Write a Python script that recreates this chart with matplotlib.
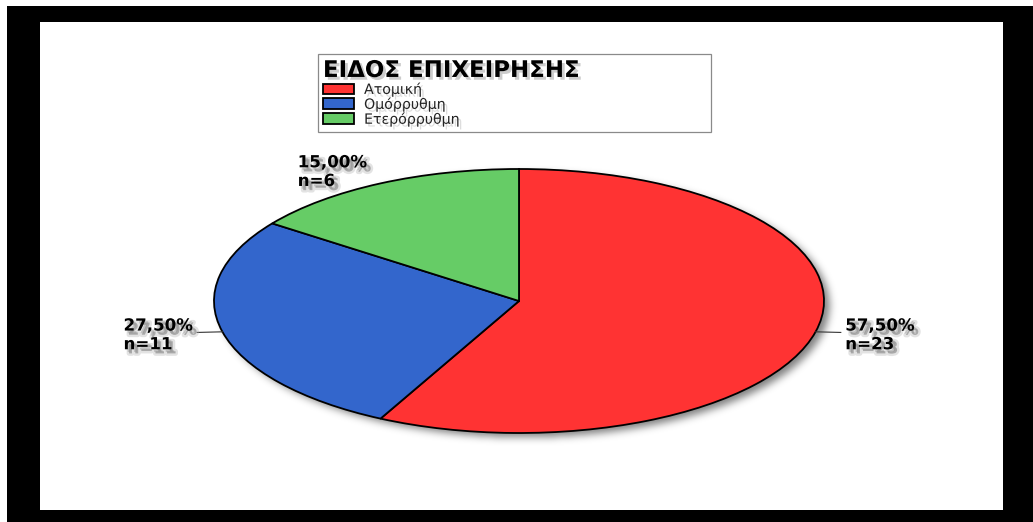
import numpy as np
import matplotlib
matplotlib.use("Agg")
import matplotlib.pyplot as plt
import matplotlib.patheffects as pe
from matplotlib.patches import Rectangle

# Data: type of business (count of firms)
categories = ["Ατομική", "Ομόρρυθμη", "Ετερόρρυθμη"]
counts = [23, 11, 6]
percent_labels = ["57,50%", "27,50%", "15,00%"]
legend_title = "ΕΙΔΟΣ ΕΠΙΧΕΙΡΗΣΗΣ"
colors = ["#ff3333", "#3366cc", "#66cc66"]

W, H = 1033, 522
fig = plt.figure(figsize=(W / 100, H / 100), dpi=100)
fig.patch.set_facecolor("white")

# ---- frame drawn in pixel coordinates ----
bg = fig.add_axes([0, 0, 1, 1], zorder=-5)
bg.axis("off")
bg.add_patch(Rectangle((7, 6), W - 7, H - 6, facecolor="black", edgecolor="none"))
bg.add_patch(Rectangle((40, 22), 963, 488, facecolor="white", edgecolor="none"))
# soft inner shading along the left and top edges
n_left = 17
left_rgba = np.zeros((1, n_left, 4))
left_rgba[..., 3] = np.linspace(0.5, 0.0, n_left)[None, :]
bg.imshow(left_rgba, extent=(40, 57, 510, 22), aspect="auto",
          interpolation="bilinear", origin="upper")
n_top = 6
top_rgba = np.zeros((n_top, 1, 4))
top_rgba[..., 3] = np.linspace(0.35, 0.0, n_top)[:, None]
bg.imshow(top_rgba, extent=(40, 1003, 28, 22), aspect="auto",
          interpolation="bilinear", origin="upper")
bg.set_xlim(0, W)
bg.set_ylim(H, 0)
bg.set_aspect("auto")

# ---- pie (elliptical) ----
cx, cy, rx, ry = 519, 301, 305, 132
ax = fig.add_axes([(cx - rx) / W, 1 - (cy + ry) / H, 2 * rx / W, 2 * ry / H])
wedges, _ = ax.pie(counts, colors=colors, startangle=90, counterclock=False,
                   wedgeprops=dict(edgecolor="black", linewidth=1.3))
ax.set_aspect("auto")

# blurred drop shadow under the pie
ext = 1.2
nx, ny = int(2 * ext * rx), int(2 * ext * ry)
xs = np.linspace(-ext, ext, nx)
ys = np.linspace(ext, -ext, ny)
X, Y = np.meshgrid(xs, ys)
dx, dy = 6 / rx, -5 / ry
mask = (((X - dx) ** 2 + (Y - dy) ** 2) <= 1.0).astype(float)
sig = 4.0
k = np.arange(-12, 13)
kern = np.exp(-k ** 2 / (2 * sig ** 2))
kern /= kern.sum()
mask = np.apply_along_axis(lambda r: np.convolve(r, kern, mode="same"), 1, mask)
mask = np.apply_along_axis(lambda c: np.convolve(c, kern, mode="same"), 0, mask)
shadow = np.zeros((ny, nx, 4))
shadow[..., 3] = mask * 0.5
ax.imshow(shadow, extent=(-ext, ext, -ext, ext), zorder=0, clip_on=False,
          aspect="auto", interpolation="bilinear", origin="upper")
ax.set_xlim(-1, 1)
ax.set_ylim(-1, 1)
ax.set_aspect("auto")
ax.axis("off")

text_shadow = [
    pe.Stroke(offset=(3, -3), linewidth=3.5, foreground="#b0b0b0", alpha=0.35),
    pe.SimplePatchShadow(offset=(2, -2), shadow_rgbFace="#909090", alpha=0.4),
    pe.Normal(),
]

for w, pct, n in zip(wedges, percent_labels, counts):
    theta = np.deg2rad((w.theta1 + w.theta2) / 2)
    ux, uy = np.cos(theta), np.sin(theta)
    ha = "left" if ux > 0 else "right"
    lx, ly = 1.1 * ux, 1.1 * uy
    if abs(uy) < 0.5:
        ax.plot([ux, 1.085 * ux], [uy, 1.02 * uy], color="#333333", lw=0.8,
                clip_on=False, zorder=3)
    ax.text(lx, ly, f"{pct}\nn={n}", ha=ha, va="center", ma="left",
            fontsize=12, fontweight="bold", linespacing=1.05, color="black",
            path_effects=text_shadow, clip_on=False, zorder=4)

# ---- legend ----
leg = fig.legend(
    wedges, categories, title=legend_title,
    loc="upper left",
    bbox_to_anchor=(318 / W, 1 - 133 / H, (711 - 318) / W, (133 - 54) / H),
    mode="expand", ncol=1, fontsize=10.2,
    title_fontproperties={"weight": "bold", "size": 16.5},
    alignment="left", frameon=True, fancybox=False, framealpha=1,
    edgecolor="#8a8a8a", handlelength=2.2, handleheight=0.8,
    handletextpad=0.7, labelspacing=0.03, borderpad=0.35, borderaxespad=0,
    labelcolor="#222222",
)
leg.get_frame().set_linewidth(0.9)
leg.get_title().set_path_effects([
    pe.SimplePatchShadow(offset=(2, -2), shadow_rgbFace="#808080", alpha=0.4),
    pe.Normal()])
for t in leg.get_texts():
    t.set_path_effects([
        pe.SimplePatchShadow(offset=(2, -2), shadow_rgbFace="#a0a0a0", alpha=0.35),
        pe.Normal()])

fig.savefig("out.png", dpi=100, facecolor=fig.get_facecolor())
